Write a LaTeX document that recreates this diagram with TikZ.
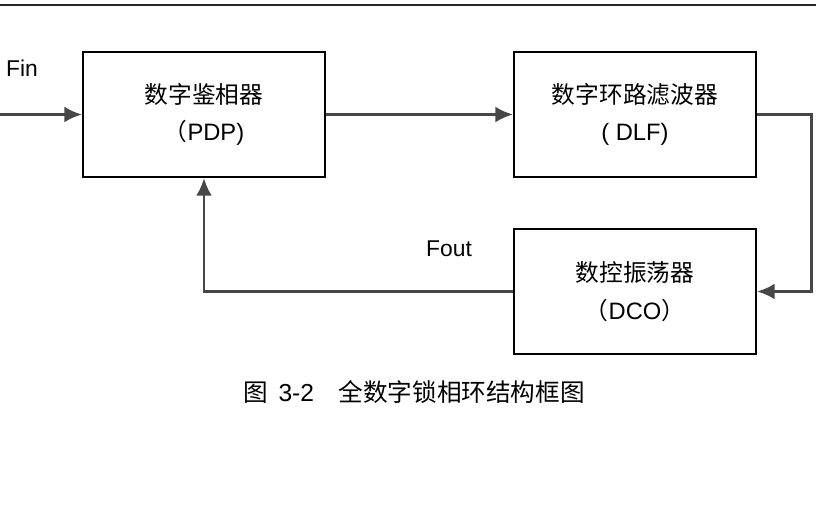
\documentclass[tikz,border=0pt]{standalone}
\usepackage{fontspec}
\setmainfont{Liberation Sans}
\newfontfamily\cjk{Noto Sans CJK SC}
\usetikzlibrary{arrows.meta,positioning}

\begin{document}
\begin{tikzpicture}[x=0.02cm,y=-0.02cm,
    block/.style={draw=black,line width=1.1pt,minimum width=4.84cm,minimum height=2.5cm,
        align=center,font=\fontsize{13.5}{21.5}\selectfont},
    wire/.style={draw=black!72,line width=1.7pt},
    tip/.style={-{Latex[length=10pt,width=9pt]}},
    lbl/.style={font=\fontsize{13}{15}\selectfont}]

    %frame:
    \useasboundingbox (0,0) rectangle (816,510);
    \draw[line width=1pt,black!85] (0,5) -- (816,5);

    %blocks:
    \node[block] (pdp) at (204,114.5) {{\cjk 数字鉴相器}\\{\cjk （}PDP)};
    \node[block] (dlf) at (635,114.5) {{\cjk 数字环路滤波器}\\( DLF)};
    \node[block] (dco) at (635,291.5) {{\cjk 数控振荡器}\\{\cjk （}DCO{\cjk ）}};

    %signals:
    \coordinate (fin) at (0,114.5);
    \node[lbl] (finlbl) at (22,68) {Fin};
    \node[lbl] (foutlbl) at (449,249) {Fout};

    %connectors:
    \draw[wire,tip] (fin) -- (pdp);
    \draw[wire,tip] (pdp) -- (dlf);
    \draw[wire,tip] (dlf.east) -- ++(55,0) |- (dco.east);
    \draw[wire,tip] (dco.west) -| (pdp.south);

    %caption:
    \node[font=\fontsize{14}{16}\selectfont] (caption) at (414,392)
        {{\cjk 图}\hspace{6pt}3-2\hspace{14pt}{\cjk 全数字锁相环结构框图}};

\end{tikzpicture}
\end{document}
